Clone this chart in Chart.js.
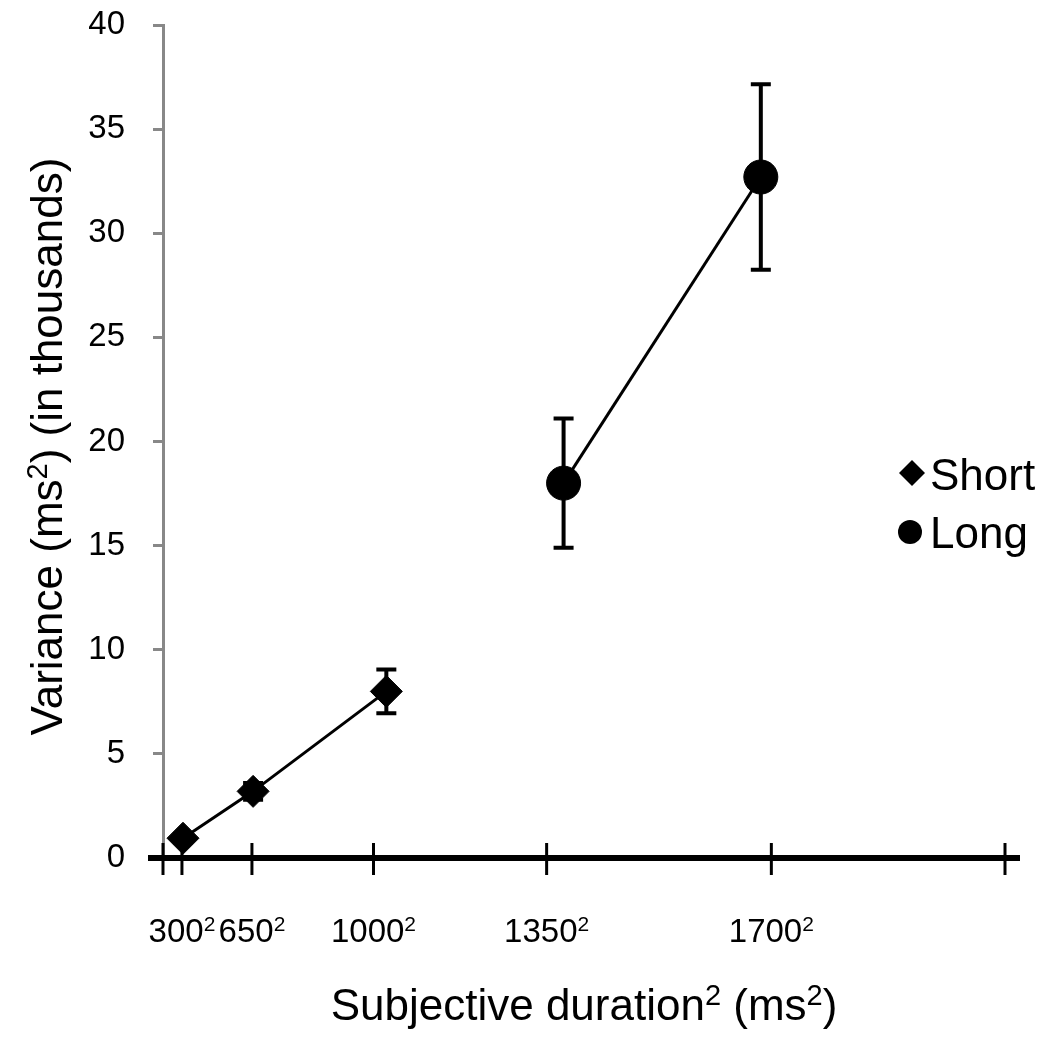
<!DOCTYPE html>
<html>
<head>
<meta charset="utf-8">
<script src="https://cdn.jsdelivr.net/npm/chart.js@4.4.0/dist/chart.umd.min.js"></script>
<style>
  body { margin: 0; background: #fff; }
  #wrap { width: 1048px; height: 1050px; position: relative; }
</style>
</head>
<body>
<div id="wrap"><canvas id="varianceChart"></canvas></div>
<script>
// x ticks sit at the squared nominal durations (labels get a superscript 2)
const xTickValues = [0, 90000, 422500, 1000000, 1822500, 2890000, 4000000];
const xTickLabels = ["", "300", "650", "1000", "1350", "1700", ""];

// short durations
const shortX = [95000, 428000, 1061000];
const shortY = [0.95, 3.2, 8.0];
const shortErr = [0.2, 0.4, 1.05];

// long durations
const longX = [1903000, 2840000];
const longY = [18.0, 32.7];
const longErr = [3.1, 4.45];

const FONT = "'Liberation Sans', Arial, sans-serif";

function toPoints(xs, ys, errs) {
  return xs.map((x, i) => ({ x: x, y: ys[i], err: errs[i] }));
}

// draws text made of normal and superscript parts, centred on cx, on baseline by
function drawRich(ctx, parts, cx, by, size) {
  const supSize = Math.round(size * 0.65);
  let total = 0;
  parts.forEach(p => {
    ctx.font = (p.sup ? supSize : size) + "px " + FONT;
    p.w = ctx.measureText(p.t).width;
    total += p.w;
  });
  let x = cx - total / 2;
  ctx.textAlign = "left";
  ctx.textBaseline = "alphabetic";
  parts.forEach(p => {
    ctx.font = (p.sup ? supSize : size) + "px " + FONT;
    ctx.fillText(p.t, x, p.sup ? by - size * 0.33 : by);
    x += p.w;
  });
}

// error bars, x axis line with crossing ticks
const extras = {
  id: "extras",
  beforeDatasetsDraw(chart) {
    const ctx = chart.ctx;
    const xs = chart.scales.x, ys = chart.scales.y;
    ctx.save();
    ctx.strokeStyle = "#000";
    ctx.lineWidth = 4;
    chart.data.datasets.forEach(ds => {
      ds.data.forEach(p => {
        const px = xs.getPixelForValue(p.x);
        const top = ys.getPixelForValue(p.y + p.err);
        const bot = ys.getPixelForValue(p.y - p.err);
        ctx.beginPath();
        ctx.moveTo(px, top); ctx.lineTo(px, bot);
        ctx.moveTo(px - 10, top); ctx.lineTo(px + 10, top);
        ctx.moveTo(px - 10, bot); ctx.lineTo(px + 10, bot);
        ctx.stroke();
      });
    });

    const area = chart.chartArea;
    const y0 = ys.getPixelForValue(0);
    ctx.lineWidth = 6;
    ctx.beginPath();
    ctx.moveTo(area.left - 15, y0);
    ctx.lineTo(area.right + 15, y0);
    ctx.stroke();
    ctx.lineWidth = 3;
    xTickValues.forEach(v => {
      const px = xs.getPixelForValue(v);
      ctx.beginPath();
      ctx.moveTo(px, y0 - 15);
      ctx.lineTo(px, y0 + 17);
      ctx.stroke();
    });
    ctx.restore();
  },
  // tick labels, titles and legend (they need real superscripts)
  afterDraw(chart) {
    const ctx = chart.ctx;
    const xs = chart.scales.x;
    const area = chart.chartArea;
    ctx.save();
    ctx.fillStyle = "#000";

    xTickValues.forEach((v, i) => {
      if (!xTickLabels[i]) return;
      drawRich(ctx, [{ t: xTickLabels[i] }, { t: "2", sup: true }], xs.getPixelForValue(v), 942, 33);
    });

    drawRich(ctx, [{ t: "Subjective duration" }, { t: "2", sup: true }, { t: " (ms" }, { t: "2", sup: true }, { t: ")" }],
      (area.left + area.right) / 2, 1020, 44);

    ctx.save();
    ctx.translate(62, (area.top + area.bottom) / 2 + 5);
    ctx.rotate(-Math.PI / 2);
    drawRich(ctx, [{ t: "Variance (ms" }, { t: "2", sup: true }, { t: ") (in thousands)" }], 0, 0, 44);
    ctx.restore();

    // legend
    ctx.beginPath();
    ctx.moveTo(912, 460); ctx.lineTo(925, 473); ctx.lineTo(912, 486); ctx.lineTo(899, 473);
    ctx.closePath(); ctx.fill();
    ctx.beginPath();
    ctx.arc(910, 532, 12, 0, Math.PI * 2);
    ctx.fill();
    ctx.font = "44px " + FONT;
    ctx.textAlign = "left";
    ctx.textBaseline = "alphabetic";
    ctx.fillText("Short", 930, 490);
    ctx.fillText("Long", 930, 548);
    ctx.restore();
  }
};

new Chart(document.getElementById("varianceChart"), {
  type: "scatter",
  data: {
    datasets: [
      {
        label: "Short",
        data: toPoints(shortX, shortY, shortErr),
        showLine: true,
        borderColor: "#000",
        borderWidth: 3,
        pointStyle: "rectRot",
        pointRadius: 16,
        pointBackgroundColor: "#000",
        pointBorderColor: "#000",
        pointBorderWidth: 1
      },
      {
        label: "Long",
        data: toPoints(longX, longY, longErr),
        showLine: true,
        borderColor: "#000",
        borderWidth: 3,
        pointStyle: "circle",
        pointRadius: 17,
        pointBackgroundColor: "#000",
        pointBorderColor: "#000",
        pointBorderWidth: 1
      }
    ]
  },
  options: {
    responsive: true,
    maintainAspectRatio: false,
    animation: false,
    layout: { autoPadding: false, padding: { top: 25, right: 43, left: 0, bottom: 0 } },
    plugins: {
      legend: { display: false },
      tooltip: { enabled: false }
    },
    scales: {
      x: {
        type: "linear",
        min: 0,
        max: 4000000,
        afterFit: s => {
          s.height = 192;
          s.paddingLeft = 0; s.paddingRight = 0;
        },
        afterBuildTicks: s => { s.ticks = xTickValues.map(v => ({ value: v })); },
        grid: { display: false, drawTicks: false },
        border: { display: false },
        ticks: { display: false }
      },
      y: {
        min: 0,
        max: 40,
        afterFit: s => {
          s.width = 163;
          s.paddingTop = 0; s.paddingBottom = 0;
        },
        grid: {
          drawOnChartArea: false,
          drawTicks: true,
          tickLength: 10,
          color: "#888",
          lineWidth: 3
        },
        border: { color: "#888", width: 3 },
        ticks: {
          stepSize: 5,
          padding: 28,
          color: "#000",
          font: { family: FONT, size: 33 }
        }
      }
    }
  },
  plugins: [extras]
});
</script>
</body>
</html>
